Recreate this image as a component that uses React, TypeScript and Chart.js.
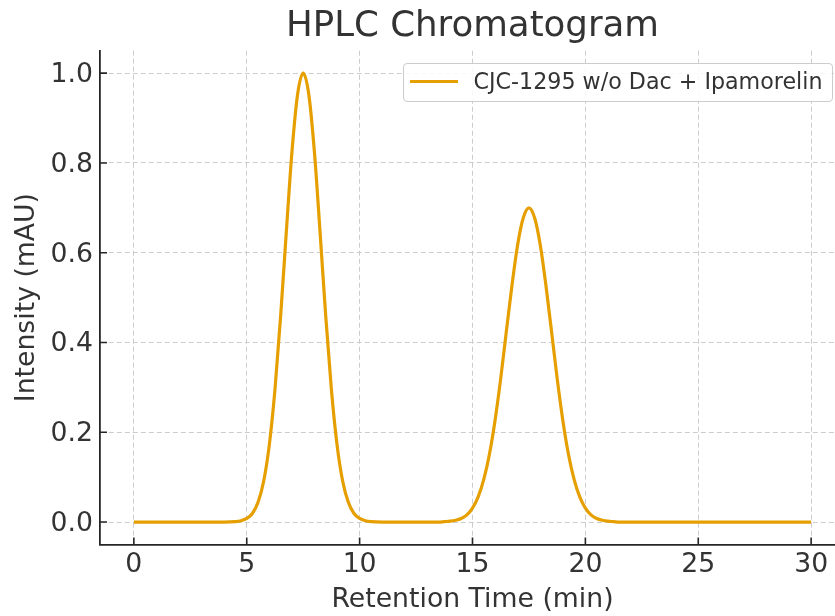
import { useEffect, useRef } from "react";
import { Chart, registerables } from "chart.js";

Chart.register(...registerables);

const chartTitle = "HPLC Chromatogram";
const xTitle = "Retention Time (min)";
const yTitle = "Intensity (mAU)";
const seriesLabel = "CJC-1295 w/o Dac + Ipamorelin";

const retentionTimes = [
  0, 1, 2, 3, 4,
  4.5, 4.75, 5, 5.25, 5.5, 5.75, 6, 6.25, 6.5, 6.75, 7, 7.25, 7.5,
  7.75, 8, 8.25, 8.5, 8.75, 9, 9.25, 9.5, 9.75, 10, 10.25, 10.5,
  11, 12, 13,
  13.5, 13.75, 14, 14.25, 14.5, 14.75, 15, 15.25, 15.5, 15.75, 16, 16.25, 16.5, 16.75, 17, 17.25, 17.5,
  17.75, 18, 18.25, 18.5, 18.75, 19, 19.25, 19.5, 19.75, 20, 20.25, 20.5, 20.75, 21, 21.25, 21.5,
  22, 23, 24, 25, 26, 27, 28, 29, 30,
];

const intensities = [
  0, 0, 0, 0, 0,
  0.001, 0.003, 0.008, 0.019, 0.044, 0.091, 0.172, 0.295, 0.458, 0.644, 0.823, 0.952, 1.0,
  0.952, 0.823, 0.644, 0.458, 0.295, 0.172, 0.091, 0.044, 0.019, 0.008, 0.003, 0.001,
  0, 0, 0,
  0, 0.001, 0.002, 0.004, 0.008, 0.016, 0.031, 0.056, 0.095, 0.151, 0.227, 0.32, 0.425, 0.528, 0.618, 0.678, 0.7,
  0.678, 0.618, 0.528, 0.425, 0.32, 0.227, 0.151, 0.095, 0.056, 0.031, 0.016, 0.008, 0.004, 0.002, 0.001, 0,
  0, 0, 0, 0, 0, 0, 0, 0, 0,
];

const xTicks = [0, 5, 10, 15, 20, 25, 30];
const yTicks = [0, 0.2, 0.4, 0.6, 0.8, 1.0];

const FONT = "'DejaVu Sans', 'Noto Sans', sans-serif";
const TEXT = "#333333";
const AXIS = "#262626";
const LINE = "#E69F00";
const GRID = "#cccccc";

export default function App() {
  const ref = useRef<HTMLCanvasElement | null>(null);

  useEffect(() => {
    document.body.style.margin = "0";
    if (!ref.current) return;

    const tickMarks = {
      id: "tickMarks",
      afterDraw(chart: any) {
        const { ctx, chartArea, scales } = chart;
        ctx.save();
        ctx.strokeStyle = AXIS;
        ctx.lineWidth = 1.6;
        ctx.setLineDash([]);
        ctx.beginPath();
        for (const t of xTicks) {
          const x = scales.x.getPixelForValue(t);
          ctx.moveTo(x, chartArea.bottom);
          ctx.lineTo(x, chartArea.bottom - 7);
        }
        for (const t of yTicks) {
          const y = scales.y.getPixelForValue(t);
          ctx.moveTo(chartArea.left, y);
          ctx.lineTo(chartArea.left + 7, y);
        }
        ctx.stroke();
        ctx.restore();
      },
    };

    const chart = new Chart(ref.current, {
      type: "line",
      data: {
        datasets: [
          {
            label: seriesLabel,
            data: retentionTimes.map((t, i) => ({ x: t, y: intensities[i] })),
            borderColor: LINE,
            backgroundColor: LINE,
            borderWidth: 3.2,
            pointRadius: 0,
            cubicInterpolationMode: "monotone",
            fill: false,
          },
        ],
      },
      options: {
        animation: false,
        responsive: false,
        maintainAspectRatio: false,
        layout: { padding: { left: 0, right: 35, top: 0, bottom: 0 } },
        plugins: {
          legend: { display: false },
          tooltip: { enabled: false },
          title: {
            display: true,
            fullSize: false,
            text: chartTitle,
            color: TEXT,
            font: { family: FONT, size: 35.6, weight: "normal" },
            padding: { top: 5.5, bottom: 2.5 },
          },
        },
        scales: {
          x: {
            type: "linear",
            min: -1.5,
            max: 31.5,
            afterBuildTicks: (s: any) => {
              s.ticks = xTicks.map((v) => ({ value: v }));
            },
            afterFit: (s: any) => {
              s.height = 71.5;
            },
            ticks: {
              color: TEXT,
              font: { family: FONT, size: 26.7 },
              padding: 4.3,
              maxRotation: 0,
              autoSkip: false,
              callback: (v: any) => String(v),
            },
            grid: { color: GRID, lineWidth: 1, drawTicks: false },
            border: { display: true, color: AXIS, width: 1.8, dash: [5, 3] },
            title: {
              display: true,
              text: xTitle,
              color: TEXT,
              font: { family: FONT, size: 26.7 },
              padding: { top: 0, bottom: 0 },
            },
          },
          y: {
            type: "linear",
            min: -0.05,
            max: 1.05,
            afterBuildTicks: (s: any) => {
              s.ticks = yTicks.map((v) => ({ value: v }));
            },
            afterFit: (s: any) => {
              s.width = 100;
            },
            ticks: {
              color: TEXT,
              font: { family: FONT, size: 26.7 },
              padding: 7,
              labelOffset: 2,
              callback: (v: any) => Number(v).toFixed(1),
            },
            grid: { color: GRID, lineWidth: 1, drawTicks: false },
            border: { display: true, color: AXIS, width: 1.8, dash: [5, 3] },
            title: {
              display: true,
              text: yTitle,
              color: TEXT,
              font: { family: FONT, size: 26.7 },
              padding: { top: 11.4, bottom: 0 },
            },
          },
        },
      },
      plugins: [tickMarks],
    } as any);

    return () => chart.destroy();
  }, []);

  return (
    <div style={{ position: "relative", width: 835, height: 616, overflow: "hidden", background: "#ffffff" }}>
      <canvas ref={ref} width={880} height={616} style={{ width: 880, height: 616, display: "block" }} />
      <div
        style={{
          position: "absolute",
          left: 403,
          top: 63,
          width: 430,
          height: 39,
          boxSizing: "border-box",
          border: "1px solid #cccccc",
          borderRadius: 4,
          background: "rgba(255,255,255,0.85)",
        }}
      >
        <div style={{ position: "absolute", left: 6, top: 15.8, width: 48, height: 3.2, background: LINE }} />
        <span
          style={{
            position: "absolute",
            left: 69.5,
            top: 6,
            fontFamily: FONT,
            fontSize: 22.2,
            lineHeight: "22.2px",
            color: TEXT,
            whiteSpace: "nowrap",
          }}
        >
          {seriesLabel}
        </span>
      </div>
    </div>
  );
}
